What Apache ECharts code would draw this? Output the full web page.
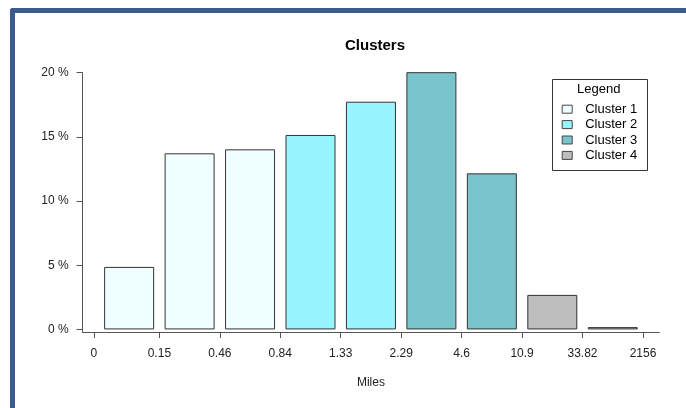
<!DOCTYPE html>
<html>
<head>
<meta charset="utf-8">
<script src="https://cdn.jsdelivr.net/npm/echarts@6/dist/echarts.min.js"></script>
<style>
  html, body { margin: 0; padding: 0; background: #ffffff; }
  #frame { position: absolute; left: 10px; top: 8px; width: 700px; height: 420px;
           border-left: 5px solid #3b5b8c; border-top: 5px solid #3b5b8c; border-top-left-radius: 3px; }
  #chart { position: absolute; left: 0; top: 0; width: 686px; height: 408px; }
</style>
</head>
<body>
<div id="frame"></div>
<div id="chart"></div>
<script>
// ---- data ----
var boundaryLabels = ['0', '0.15', '0.46', '0.84', '1.33', '2.29', '4.6', '10.9', '33.82', '2156'];
var barValues = [4.87, 13.72, 14.03, 15.15, 17.74, 20.1, 12.16, 2.69, 0.18];
var barCluster = [0, 0, 0, 1, 1, 2, 2, 3, 3];
var clusterNames = ['Cluster 1', 'Cluster 2', 'Cluster 3', 'Cluster 4'];
var clusterColors = ['#F0FFFF', '#98F5FF', '#7AC5CD', '#BEBEBE'];
var yTicks = [0, 5, 10, 15, 20];

// R barplot geometry (space 0.2, width 1)
var barCenters = barValues.map(function (v, i) { return 0.7 + 1.2 * i; });
var tickPos = boundaryLabels.map(function (l, i) { return i === 0 ? 0 : 1.2 * i + 0.1; });
var xMin = 0.2 - 0.04 * (1.2 * barValues.length - 0.2);
var xMax = 1.2 * barValues.length + 0.04 * (1.2 * barValues.length - 0.2);

var FONT = 'Liberation Sans, Arial, sans-serif';

var series = clusterNames.map(function (name, c) {
  return {
    name: name,
    type: 'bar',
    stack: 'all',
    barWidth: 50,
    itemStyle: { color: clusterColors[c], borderColor: '#333', borderWidth: 1 },
    emphasis: { disabled: true },
    data: barValues.map(function (v, i) {
      return barCluster[i] === c ? [barCenters[i], v] : [barCenters[i], '-'];
    })
  };
});

var chart = echarts.init(document.getElementById('chart'), null, { renderer: 'canvas' });
chart.setOption({
  animation: false,
  textStyle: { fontFamily: FONT },
  title: {
    text: 'Clusters', left: 370, top: 33, textAlign: 'center',
    textStyle: { fontFamily: FONT, fontSize: 15, fontWeight: 'bold', color: '#000' }
  },
  grid: { left: 82.6, right: 26.7, top: 72.7, bottom: 76 },
  xAxis: {
    type: 'value', min: xMin, max: xMax,
    splitLine: { show: false },
    axisLine: { show: true, onZero: false, lineStyle: { color: '#555', width: 1 } },
    axisTick: { show: true, length: 6, customValues: tickPos, lineStyle: { color: '#555' } },
    axisLabel: {
      customValues: tickPos, margin: 16, fontSize: 12, color: '#222', fontFamily: FONT,
      formatter: function (v) {
        for (var i = 0; i < tickPos.length; i++) if (Math.abs(tickPos[i] - v) < 1e-6) return boundaryLabels[i];
        return '';
      }
    },
    name: 'Miles', nameLocation: 'middle', nameGap: 45,
    nameTextStyle: { fontSize: 12, color: '#222', fontFamily: FONT }
  },
  yAxis: {
    type: 'value', min: -0.2, max: 20,
    splitLine: { show: false },
    axisLine: { show: true, onZero: false, lineStyle: { color: '#555', width: 1 } },
    axisTick: { show: true, length: 6, customValues: yTicks, lineStyle: { color: '#555' } },
    axisLabel: {
      customValues: yTicks, margin: 14, fontSize: 12, color: '#222', fontFamily: FONT,
      formatter: function (v) { return Math.round(v) + ' %'; }
    }
  },
  legend: {
    orient: 'vertical', left: 561.7, top: 101.5, padding: 0, itemGap: 0,
    itemWidth: 10, itemHeight: 8, icon: 'rect', selectedMode: false,
    data: clusterNames,
    itemStyle: { borderColor: '#444', borderWidth: 1 },
    textStyle: { fontSize: 13, color: '#000', fontFamily: FONT, lineHeight: 15.4, padding: [0, 0, 0, 8] }
  },
  graphic: [
    { type: 'rect', left: 550, top: 77, shape: { width: 95, height: 91 },
      style: { fill: 'none', stroke: '#333', lineWidth: 1 }, silent: true },
    { type: 'text', left: 577, top: 83,
      style: { text: 'Legend', font: '13px ' + FONT, fill: '#000' }, silent: true }
  ],
  series: series
});
</script>
</body>
</html>
